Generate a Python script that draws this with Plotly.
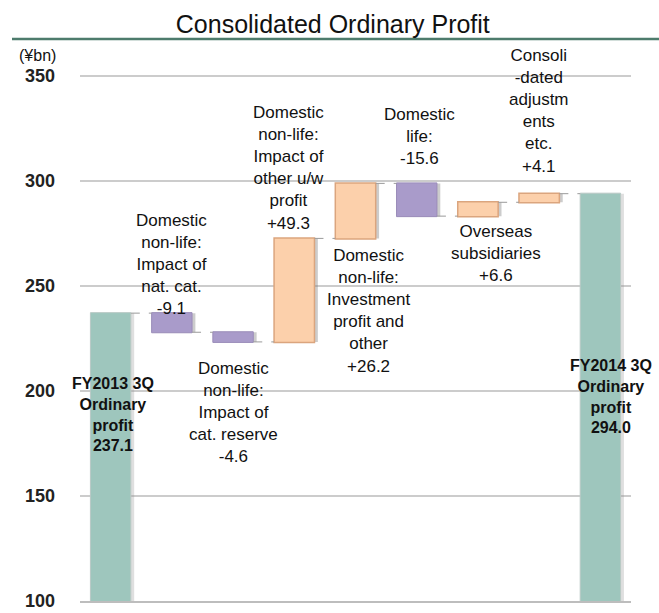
import plotly.graph_objects as go

# ---- data ----
categories = ["FY2013 3Q", "Nat. cat.", "Cat. reserve", "Other u/w", "Investment",
              "Domestic life", "Overseas", "Consolidated adj.", "FY2014 3Q"]
values = [237.1, -9.1, -4.6, 49.3, 26.2, -15.6, 6.6, 4.1, 294.0]
measures = ["absolute", "relative", "relative", "relative", "relative",
            "relative", "relative", "relative", "total"]
label_texts = [
    "<b>FY2013 3Q<br>Ordinary<br>profit<br>237.1</b>",
    "Domestic<br>non-life:<br>Impact of<br>nat. cat.<br>-9.1",
    "Domestic<br>non-life:<br>Impact of<br>cat. reserve<br>-4.6",
    "Domestic<br>non-life:<br>Impact of<br>other u/w<br>profit<br>+49.3",
    "Domestic<br>non-life:<br>Investment<br>profit and<br>other<br>+26.2",
    "Domestic<br>life:<br>-15.6",
    "Overseas<br>subsidiaries<br>+6.6",
    "Consoli<br>-dated<br>adjustm<br>ents<br>etc.<br>+4.1",
    "<b>FY2014 3Q<br>Ordinary<br>profit<br>294.0</b>",
]
y_ticks = [100, 150, 200, 250, 300, 350]

# ---- label placement (style only) ----
# (edge of bar to anchor at, yanchor, xshift, yshift, size)
label_place = [
    ("top", "top", 2, -60, 16),
    ("top", "bottom", 0, -7, 17),
    ("bottom", "top", 0, -15, 17),
    ("top", "bottom", -6, 3, 17),
    ("bottom", "top", 13, -6, 17),
    ("top", "bottom", 3, 13, 17),
    ("bottom", "top", 18, -4, 17),
    ("top", "bottom", 0, 16, 17),
    ("top", "top", 11, -161, 16),
]

TEAL = "#9ec6bd"
PURPLE = "#a99bca"
ORANGE = "#fcd0ab"
SHADOW = "rgba(110,110,110,0.35)"
FONT = "Liberation Sans, Arial, sans-serif"
BAR_W = 0.66

# compute bar tops/bottoms from the data
tops, bottoms = [], []
level = 0.0
for v, m in zip(values, measures):
    if m == "absolute":
        level = v
        tops.append(v); bottoms.append(0)
    elif m == "total":
        tops.append(level); bottoms.append(0)
    else:
        start = level
        level = level + v
        tops.append(max(start, level)); bottoms.append(min(start, level))

xs_idx = list(range(len(categories)))

fig = go.Figure()
# soft drop shadow behind the bars
fig.add_trace(go.Waterfall(
    x=xs_idx, y=values, measure=measures, width=BAR_W, offset=-BAR_W / 2 + 0.055,
    increasing=dict(marker=dict(color=SHADOW)),
    decreasing=dict(marker=dict(color=SHADOW)),
    totals=dict(marker=dict(color="rgba(150,150,150,0.3)")),
    connector=dict(visible=False),
    hoverinfo="skip", showlegend=False,
))
fig.add_trace(go.Waterfall(
    x=xs_idx,
    y=values,
    measure=measures,
    width=BAR_W, offset=-BAR_W / 2,
    increasing=dict(marker=dict(color=ORANGE, line=dict(color="#dba57e", width=1.5))),
    decreasing=dict(marker=dict(color=PURPLE, line=dict(color="#9a8cb9", width=1))),
    totals=dict(marker=dict(color=TEAL, line=dict(color="#b9c9c5", width=1))),
    connector=dict(mode="between", line=dict(color="#9a9a9a", width=1, dash="dash")),
    hoverinfo="skip",
    showlegend=False,
))

annotations = []
for i, txt in enumerate(label_texts):
    edge, yanchor, xs, ys, size = label_place[i]
    yv = tops[i] if edge == "top" else bottoms[i]
    annotations.append(dict(
        x=i, y=yv, xref="x", yref="y", text=txt, showarrow=False,
        xanchor="center", yanchor=yanchor, xshift=xs, yshift=ys,
        font=dict(family=FONT, size=size, color="#111111"), align="center",
    ))

# plot area: 350 -> y=76px, 100 -> y=601px ; range top extended to 351
PLOT_TOP, PLOT_BOTTOM = 74, 601
H = 613
ph = PLOT_BOTTOM - PLOT_TOP


def py(px):
    return (PLOT_BOTTOM - px) / ph


annotations.append(dict(
    x=-0.078, y=py(56), xref="paper", yref="paper", text="(¥bn)", showarrow=False,
    xanchor="center", yanchor="middle", font=dict(family=FONT, size=16, color="#111111"),
))

fig.update_layout(
    width=659, height=H,
    waterfallmode="overlay",
    margin=dict(l=80, r=28, t=PLOT_TOP, b=H - PLOT_BOTTOM, autoexpand=False),
    paper_bgcolor="white", plot_bgcolor="white",
    title=dict(text="Consolidated Ordinary Profit", x=0.505, xanchor="center",
               y=1 - 24 / H, yanchor="middle", yref="container",
               font=dict(family=FONT, size=25, color="#111111")),
    xaxis=dict(range=[-0.5, 8.5], showticklabels=False, showgrid=False, zeroline=False,
               showline=True, linecolor="#bdbdbd", linewidth=2, automargin=False),
    yaxis=dict(range=[100, 351], tickvals=y_ticks, showgrid=True, gridcolor="#cccccc",
               gridwidth=1.5, zeroline=False, showline=False, ticks="",
               ticklabelstandoff=24, automargin=False,
               tickfont=dict(family=FONT, size=18, color="#222222", weight="bold")),
    annotations=annotations,
    shapes=[dict(type="line", xref="paper", yref="paper",
                 x0=(12 - 80) / 551, x1=(659 - 80) / 551,
                 y0=py(39), y1=py(39),
                 line=dict(color="#4d7b6c", width=2.5))],
)

fig.write_html("out.html", config={"displayModeBar": False},
               post_script="document.body.style.margin='0';document.body.style.overflow='hidden';")
